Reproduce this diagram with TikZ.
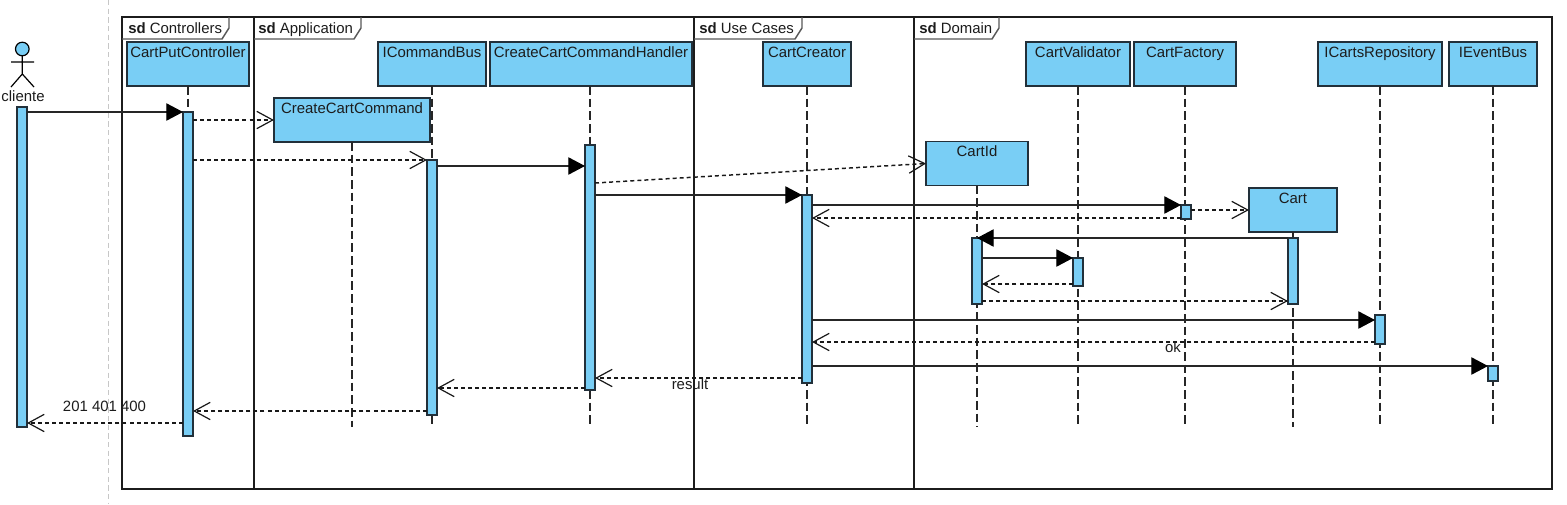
\documentclass[tikz,border=0pt]{standalone}
\usepackage{fontspec}
\setmainfont{Liberation Sans}
\usetikzlibrary{arrows.meta}
\definecolor{boxfill}{HTML}{79CEF5}
\definecolor{boxline}{HTML}{22303A}
\definecolor{inkc}{HTML}{1C1C1C}
\tikzset{
  every node/.style={font=\fontsize{11.2pt}{13pt}\selectfont, text=inkc},
  framebox/.style={draw=inkc, line width=1.1pt},
  tabline/.style={draw=black!65, line width=1.1pt},
  tabtext/.style={anchor=base west, inner sep=0pt},
  headbox/.style={draw=boxline, fill=boxfill, line width=1.1pt, inner sep=0pt, outer sep=0pt,
    text height=11.25pt, text depth=21.75pt, align=center},
  wide/.style={minimum width=#1*0.75pt},
  act/.style={draw=boxline, fill=boxfill, line width=1.1pt, inner sep=0pt, outer sep=0pt, minimum width=7.5pt},
  tall/.style={minimum height=#1*0.75pt},
  life/.style={draw=black!85, line width=0.9pt, dash pattern=on 6.5pt off 3pt},
  sync/.style={draw=black!85, line width=0.85pt, -{Triangle[length=12.5pt,width=13pt,fill=black,color=black]}},
  reply/.style={draw=black!90, line width=0.85pt, dash pattern=on 3pt off 2.3pt,
    -{Straight Barb[length=12pt,width=13pt,color=black!90,line width=0.9pt]}},
  guide/.style={draw=black!22, line width=0.8pt, dash pattern=on 4pt off 2.5pt},
  msglabel/.style={anchor=base, inner sep=0pt}
}
\begin{document}
\begin{tikzpicture}[x=0.75pt,y=-0.75pt]
\useasboundingbox (0,0) rectangle (1567,504);
\fill[white] (0,0) rectangle (1567,504);
% guide line
\coordinate (guideTop) at (108.5,0);
\coordinate (guideBot) at (108.5,504);
\draw[guide] (guideTop) -- (guideBot);
% frames
\draw[framebox] (122,17) rectangle (1552,489);
\draw[framebox] (254,17) -- (254,489);
\draw[framebox] (694,17) -- (694,489);
\draw[framebox] (914,17) -- (914,489);
\draw[tabline] (122,39) -- (222,39) -- (229,28) -- (229,17);
\draw[tabline] (254,39) -- (354,39) -- (361,28) -- (361,17);
\draw[tabline] (694,39) -- (795,39) -- (802,28) -- (802,17);
\draw[tabline] (914,39) -- (992,39) -- (999,28) -- (999,17);
\node[tabtext] (tabA) at (128,33) {\textbf{sd} Controllers};
\node[tabtext] (tabB) at (258,33) {\textbf{sd} Application};
\node[tabtext] (tabC) at (699,33) {\textbf{sd} Use Cases};
\node[tabtext] (tabD) at (919,33) {\textbf{sd} Domain};
% actor
\draw[draw=black, line width=0.9pt, fill=boxfill] (22.3,49) circle (6.8);
\draw[draw=black, line width=0.9pt] (22.3,55.8) -- (22.3,74) (11,62) -- (34,62) (11,87) -- (22.3,74) -- (34,87);
\node[msglabel] (clienteLabel) at (23,101) {cliente};
% head boxes
\node[headbox, wide=122] (ctrl) at (188,64) {CartPutController};
\node[headbox, wide=156] (cmd) at (352,120) {CreateCartCommand};
\node[headbox, wide=108] (bus) at (432,64) {ICommandBus};
\node[headbox, wide=202] (handler) at (591,64) {CreateCartCommandHandler};
\node[headbox, wide=88] (creator) at (807,64) {CartCreator};
\node[headbox, wide=102] (cartid) at (977,163.5) {CartId};
\node[headbox, wide=104] (validator) at (1078,64) {CartValidator};
\node[headbox, wide=102] (factory) at (1185,64) {CartFactory};
\node[headbox, wide=88] (cart) at (1293,210) {Cart};
\node[headbox, wide=124] (repo) at (1380,64) {ICartsRepository};
\node[headbox, wide=88] (eventbus) at (1493,64) {IEventBus};
% activations (positions only; painted after the lifelines)
\coordinate (handlerAxis) at (590,0);
% lifelines
\coordinate (ctrlEnd) at (ctrl.south |- 0,436);
\coordinate (cmdEnd) at (cmd.south |- 0,427);
\coordinate (busEnd) at (bus.south |- 0,427);
\coordinate (handlerEnd) at (handlerAxis |- 0,427);
\coordinate (creatorEnd) at (creator.south |- 0,427);
\coordinate (cartidEnd) at (cartid.south |- 0,427);
\coordinate (validatorEnd) at (validator.south |- 0,427);
\coordinate (factoryEnd) at (factory.south |- 0,427);
\coordinate (cartEnd) at (cart.south |- 0,427);
\coordinate (repoEnd) at (repo.south |- 0,427);
\coordinate (eventbusEnd) at (eventbus.south |- 0,427);
\draw[life] (ctrl.south) -- (ctrlEnd);
\draw[life] (cmd.south) -- (cmdEnd);
\draw[life] (bus.south) -- (busEnd);
\draw[life] (handlerAxis |- handler.south) -- (handlerEnd);
\draw[life] (creator.south) -- (creatorEnd);
\draw[life] (cartid.south) -- (cartidEnd);
\draw[life] (validator.south) -- (validatorEnd);
\draw[life] (factory.south) -- (factoryEnd);
\draw[life] (cart.south) -- (cartEnd);
\draw[life] (repo.south) -- (repoEnd);
\draw[life] (eventbus.south) -- (eventbusEnd);
% activations
\node[act, tall=320] (aClient) at (22,267) {};
\node[act, tall=324] (aCtrl) at (188,274) {};
\node[act, tall=255] (aBus) at (432,287.5) {};
\node[act, tall=245] (aHandler) at (590,267.5) {};
\node[act, tall=188] (aCreator) at (807,289) {};
\node[act, tall=14] (aFactory) at (1186,212) {};
\node[act, tall=66] (aCartid) at (977,271) {};
\node[act, tall=28] (aValidator) at (1078,272) {};
\node[act, tall=66] (aCart) at (1293,271) {};
\node[act, tall=29] (aRepo) at (1380,329.5) {};
\node[act, tall=15] (aEvent) at (1493,373.5) {};
% messages
\draw[sync] (aClient.east |- 0,112) -- (aCtrl.west |- 0,112);
\draw[reply] (aCtrl.east |- 0,120) -- (cmd.west |- 0,120);
\draw[reply] (aCtrl.east |- 0,160) -- (aBus.west |- 0,160);
\draw[sync] (aBus.east |- 0,166) -- (aHandler.west |- 0,166);
\draw[reply, line width=1.1pt] (aHandler.east |- 0,183) -- (cartid.west);
\draw[sync] (aHandler.east |- 0,195) -- (aCreator.west |- 0,195);
\draw[sync] (aCreator.east |- 0,205) -- (aFactory.west |- 0,205);
\draw[reply] (aFactory.west |- 0,218) -- (aCreator.east |- 0,218);
\draw[reply] (aFactory.east |- 0,210) -- (cart.west |- 0,210);
\draw[sync] (aCart.west |- 0,238) -- (aCartid.center |- 0,238);
\draw[sync] (aCartid.east |- 0,258) -- (aValidator.west |- 0,258);
\draw[reply] (aValidator.west |- 0,284) -- (aCartid.east |- 0,284);
\draw[reply] (aCartid.east |- 0,301) -- (aCart.west |- 0,301);
\draw[sync] (aCreator.east |- 0,320) -- (aRepo.west |- 0,320);
\draw[reply] (aRepo.west |- 0,342) -- (aCreator.east |- 0,342);
\draw[sync] (aCreator.east |- 0,366) -- (aEvent.west |- 0,366);
\draw[reply] (aCreator.west |- 0,378) -- (aHandler.east |- 0,378);
\draw[reply] (aHandler.west |- 0,388) -- (aBus.east |- 0,388);
\draw[reply] (aBus.west |- 0,411) -- (aCtrl.east |- 0,411);
\draw[reply] (aCtrl.west |- 0,423) -- (aClient.east |- 0,423);
% labels
\node[msglabel] (okLabel) at (1173,352) {ok};
\node[msglabel] (resultLabel) at (690,389) {result};
\node[msglabel] (codesLabel) at (104.5,411) {201 401 400};
\end{tikzpicture}
\end{document}
